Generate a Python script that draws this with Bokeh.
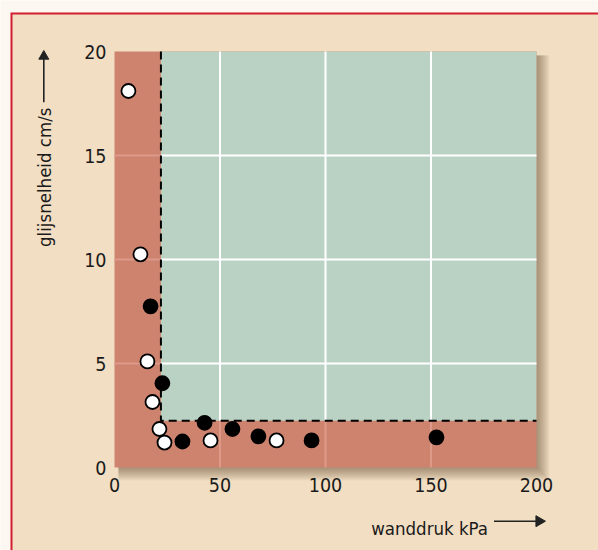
import math
from bokeh.plotting import figure
from bokeh.models import Range1d, FixedTicker
from bokeh.core.properties import value
from bokeh.embed import file_html
from bokeh.resources import INLINE

# ---------------- data ----------------
x_ticks = [0, 50, 100, 150, 200]
y_ticks = [0, 5, 10, 15, 20]
x_title = "wanddruk kPa"
y_title = "glijsnelheid cm/s"
open_x = [6.6, 12.3, 15.6, 18.0, 21.3, 23.7, 45.5, 76.8]
open_y = [18.1, 10.25, 5.1, 3.15, 1.85, 1.2, 1.3, 1.3]
filled_x = [17.1, 22.7, 32.2, 42.7, 55.9, 68.2, 93.4, 152.6]
filled_y = [7.75, 4.05, 1.25, 2.15, 1.85, 1.5, 1.3, 1.45]
x_thresh = 22.0
y_thresh = 2.25
x_max = 200
y_max = 20

# ---------------- styling / layout ----------------
W, H = 598, 550
OFFWHITE = "#FCF7F1"
FRAME_RED = "#D21F30"
BEIGE = "#F2DEC3"
RED_AREA = "#CD836E"
GREEN_AREA = "#BAD2C4"
PINK_GRID = "#DE9A88"
INK = "#1A1A1A"
FONT = "DejaVu Sans Condensed"

X0, Y0 = 114, 467             # screen position of the data origin
PX_X = 422 / x_max            # px per data unit
PX_Y = 416 / y_max


def sx(px):
    return (px - X0) / PX_X


def sy(py):
    return (Y0 - py) / PX_Y


p = figure(width=W, height=H, min_border=0,
           x_range=Range1d(sx(0), sx(W)), y_range=Range1d(sy(H), sy(0)),
           output_backend="svg", toolbar_location=None,
           background_fill_color=OFFWHITE, border_fill_color=OFFWHITE)
p.outline_line_color = None
p.grid.visible = False

# panel with red border
p.quad(left=[sx(10)], right=[sx(W + 5)], bottom=[sy(H + 5)], top=[sy(12)],
       fill_color=FRAME_RED, line_color=None)
p.quad(left=[sx(12)], right=[sx(W + 5)], bottom=[sy(H + 5)], top=[sy(14)],
       fill_color=BEIGE, line_color=None)

# drop shadow (layered translucent quads)
n = 14
p.quad(left=[sx(X0 + 4)] * n, right=[x_max + s / PX_X for s in range(n)],
       bottom=[-s / PX_Y for s in range(n)], top=[y_max - 4 / PX_Y] * n,
       fill_color="#4A3020", fill_alpha=0.04, line_color=None)

# regions
p.quad(left=[0], right=[x_max], bottom=[0], top=[y_max],
       fill_color=RED_AREA, line_color=None)
p.quad(left=[x_thresh], right=[x_max], bottom=[y_thresh], top=[y_max],
       fill_color=GREEN_AREA, line_color=None)

# grid lines
gx = [t for t in x_ticks if 0 < t < x_max]
gy = [t for t in y_ticks if 0 < t < y_max]
p.segment(x0=gx, y0=[y_thresh] * len(gx), x1=gx, y1=[y_max] * len(gx),
          line_color="white", line_width=2)
p.segment(x0=[x_thresh] * len(gy), y0=gy, x1=[x_max] * len(gy), y1=gy,
          line_color="white", line_width=2)
p.segment(x0=gx, y0=[0] * len(gx), x1=gx, y1=[y_thresh] * len(gx),
          line_color=PINK_GRID, line_width=2)
p.segment(x0=[0] * len(gy), y0=gy, x1=[x_thresh] * len(gy), y1=gy,
          line_color=PINK_GRID, line_width=2)

# threshold dashed line
p.line(x=[x_thresh, x_thresh, x_max], y=[y_max, y_thresh, y_thresh],
       line_color="black", line_width=2, line_dash="8 5")

# points
p.scatter(filled_x, filled_y, size=14, fill_color="black",
          line_color="black", line_width=1.8)
p.scatter(open_x, open_y, size=14, fill_color="white",
          line_color="black", line_width=1.8)

# axes drawn at the data origin
for ax in (p.xaxis[0], p.yaxis[0]):
    ax.fixed_location = 0
    ax.axis_line_color = None
    ax.major_tick_line_color = None
    ax.minor_tick_line_color = None
    ax.major_tick_out = 0
    ax.major_tick_in = 0
    ax.minor_tick_out = 0
    ax.major_label_text_font = FONT
    ax.major_label_text_font_size = "19.5px"
    ax.major_label_text_color = INK
p.xaxis.ticker = FixedTicker(ticks=x_ticks)
p.yaxis.ticker = FixedTicker(ticks=y_ticks)
p.xaxis.major_label_standoff = 10
p.yaxis.major_label_standoff = 8

# axis titles
p.text(x=[sx(487.5)], y=[sy(528.3)], text=[x_title], text_align="right",
       text_baseline="alphabetic", text_font=value(FONT),
       text_font_size="18.5px", text_color=INK)
p.text(x=[sx(43.5)], y=[sy(107)], text=[y_title], angle=math.pi / 2,
       text_align="right", text_baseline="middle", text_font=value(FONT),
       text_font_size="18.5px", text_color=INK)

# axis-title arrows
ARROW = "#222222"
p.segment(x0=[sx(493.5)], y0=[sy(520.7)], x1=[sx(537)], y1=[sy(520.7)],
          line_color=ARROW, line_width=1.6)
p.scatter(x=[sx(538.6)], y=[sy(520.7)], marker="triangle", size=11,
          angle=-math.pi / 2, fill_color=ARROW, line_color=ARROW, line_width=1)
p.segment(x0=[sx(43.3)], y0=[sy(101.7)], x1=[sx(43.3)], y1=[sy(58)],
          line_color=ARROW, line_width=1.6)
p.scatter(x=[sx(43.3)], y=[sy(55.8)], marker="triangle", size=10,
          angle=0, fill_color=ARROW, line_color=ARROW, line_width=1)

open("out.html", "w").write(file_html(p, INLINE))
